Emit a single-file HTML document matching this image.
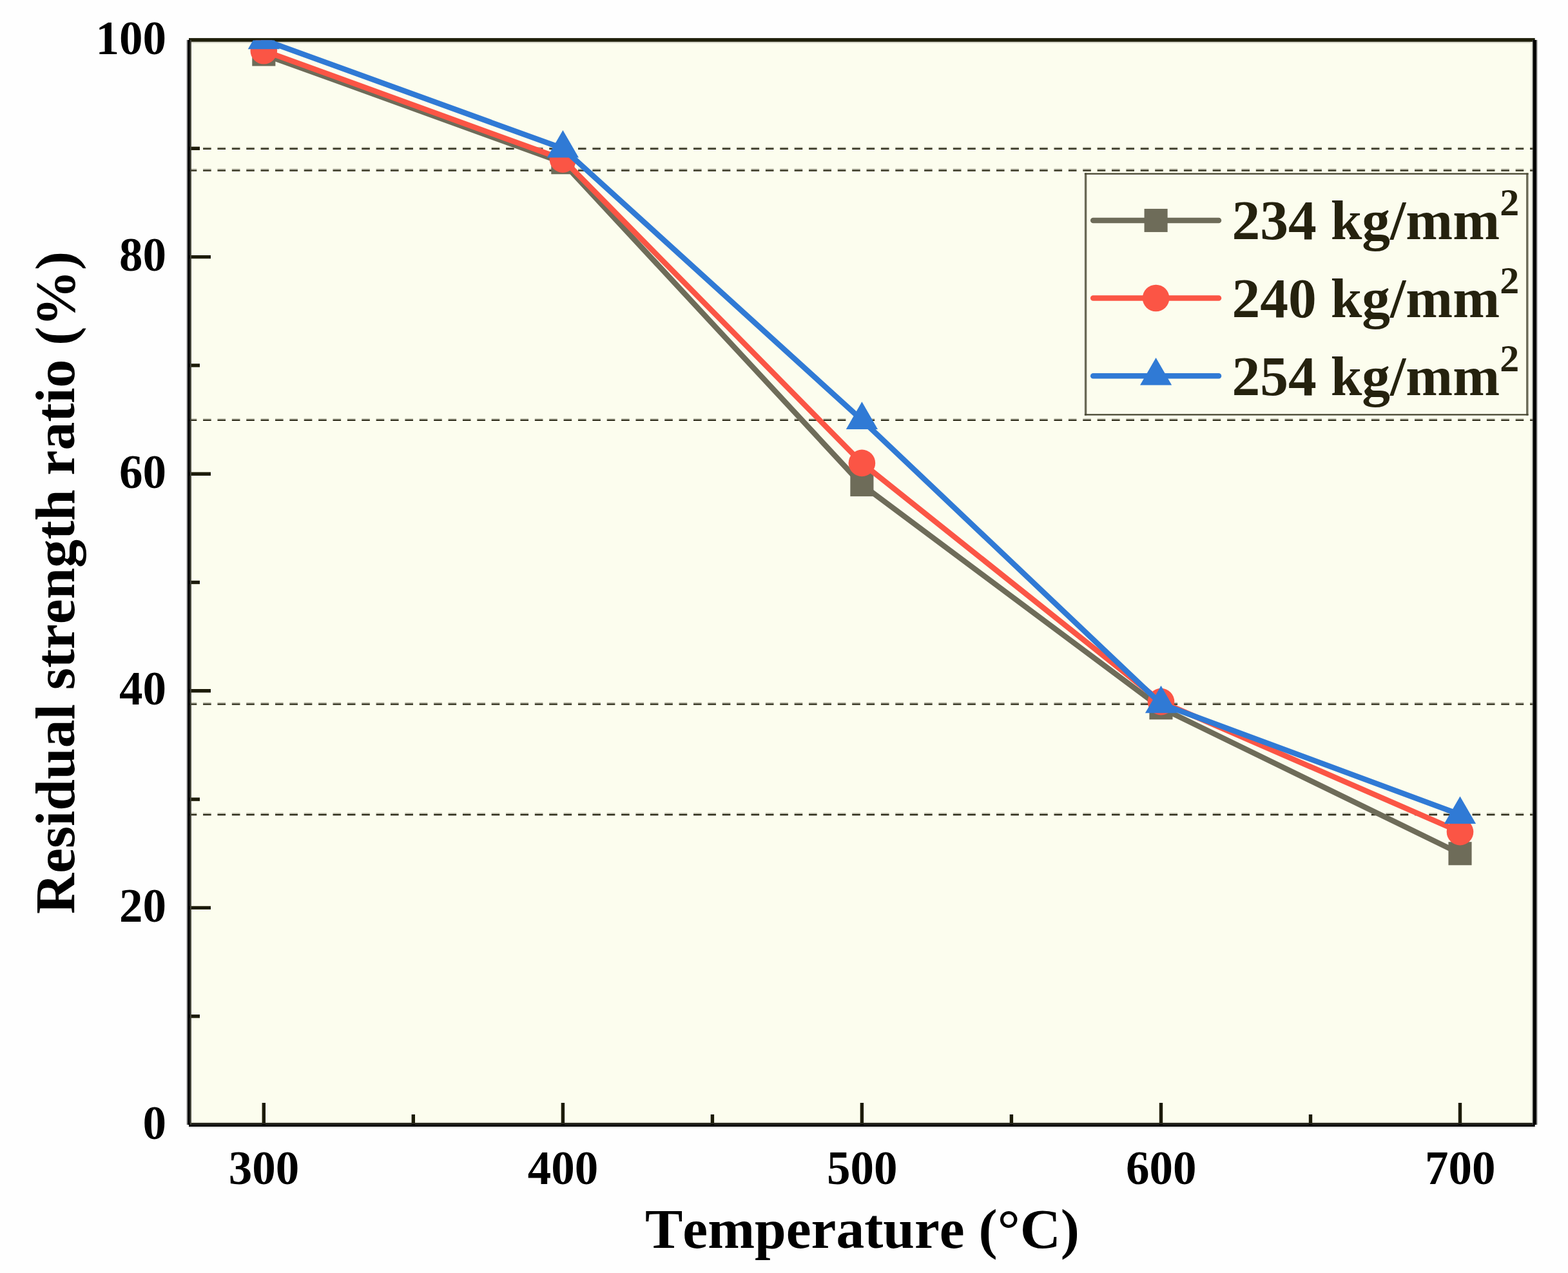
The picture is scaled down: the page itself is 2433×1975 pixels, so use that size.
<!DOCTYPE html>
<html lang="en">
<head>
<meta charset="utf-8">
<title>Residual strength ratio vs temperature</title>
<style>
html,body{margin:0;padding:0;background:#fefefe;}
body{width:2433px;height:1975px;}
svg{display:block;}
text{font-family:"Liberation Serif","Times New Roman",serif;font-weight:bold;font-kerning:none;}
.tk{font-size:73px;fill:#000;}
.ti{font-size:87.5px;fill:#000;}
.lg{font-size:87.5px;fill:#25220e;}
</style>
</head>
<body>
<svg width="2433" height="1975" viewBox="0 0 2433 1975">
<rect x="0" y="0" width="2433" height="1975" fill="#fefefe"/>
<rect x="293.0" y="62.0" width="2088.7" height="1683.0" fill="#fcfdee"/>

<rect x="293.0" y="64.8" width="2088.7" height="2.0" fill="#d6d6ca"/>
<rect x="293.0" y="1740.2" width="2088.7" height="1.8" fill="#ecedde"/>
<rect x="2375.0" y="65.0" width="2.7" height="1677.0" fill="#f1f2e6"/>
<g fill="none" stroke-dasharray="12.6 9.78" stroke-dashoffset="0.3">
<line x1="293.00" y1="229.02" x2="2381.7" y2="229.02" stroke="#b4b4a3" stroke-width="1.7"/>
<line x1="293.00" y1="230.92" x2="2381.7" y2="230.92" stroke="#2c2b18" stroke-width="2.1"/>
<line x1="293.00" y1="262.68" x2="2381.7" y2="262.68" stroke="#b4b4a3" stroke-width="1.7"/>
<line x1="293.00" y1="264.58" x2="2381.7" y2="264.58" stroke="#2c2b18" stroke-width="2.1"/>
<line x1="293.00" y1="650.10" x2="2381.7" y2="650.10" stroke="#b4b4a3" stroke-width="1.7"/>
<line x1="293.00" y1="652.00" x2="2381.7" y2="652.00" stroke="#2c2b18" stroke-width="2.1"/>
<line x1="293.00" y1="1090.71" x2="2381.7" y2="1090.71" stroke="#b4b4a3" stroke-width="1.7"/>
<line x1="293.00" y1="1092.61" x2="2381.7" y2="1092.61" stroke="#2c2b18" stroke-width="2.1"/>
<line x1="293.00" y1="1262.21" x2="2381.7" y2="1262.21" stroke="#b4b4a3" stroke-width="1.7"/>
<line x1="293.00" y1="1264.11" x2="2381.7" y2="1264.11" stroke="#2c2b18" stroke-width="2.1"/>
</g>
<g stroke="#1c1b08" stroke-width="5.4" fill="none">
<line x1="293.0" y1="1576.7" x2="310.0" y2="1576.7"/>
<line x1="293.0" y1="1408.4" x2="327.0" y2="1408.4"/>
<line x1="293.0" y1="1240.1" x2="310.0" y2="1240.1"/>
<line x1="293.0" y1="1071.8" x2="327.0" y2="1071.8"/>
<line x1="293.0" y1="903.5" x2="310.0" y2="903.5"/>
<line x1="293.0" y1="735.2" x2="327.0" y2="735.2"/>
<line x1="293.0" y1="566.9" x2="310.0" y2="566.9"/>
<line x1="293.0" y1="398.6" x2="327.0" y2="398.6"/>
<line x1="293.0" y1="230.3" x2="310.0" y2="230.3"/>
<line x1="409.3" y1="1745.0" x2="409.3" y2="1711.0"/>
<line x1="641.3" y1="1745.0" x2="641.3" y2="1729.0"/>
<line x1="873.4" y1="1745.0" x2="873.4" y2="1711.0"/>
<line x1="1105.4" y1="1745.0" x2="1105.4" y2="1729.0"/>
<line x1="1337.4" y1="1745.0" x2="1337.4" y2="1711.0"/>
<line x1="1569.4" y1="1745.0" x2="1569.4" y2="1729.0"/>
<line x1="1801.5" y1="1745.0" x2="1801.5" y2="1711.0"/>
<line x1="2033.5" y1="1745.0" x2="2033.5" y2="1729.0"/>
<line x1="2265.5" y1="1745.0" x2="2265.5" y2="1711.0"/>
</g>
<rect x="293.0" y="59.1" width="2088.7" height="5.7" fill="#1f1f0a"/>
<rect x="293.0" y="1748.0" width="2088.7" height="2.1" fill="#e4e4e4"/>
<rect x="293.0" y="1742.0" width="2088.7" height="2.3" fill="#24231a"/>
<rect x="293.0" y="1744.2" width="2088.7" height="3.7" fill="#000000"/>
<rect x="289.0" y="62.0" width="1.9" height="1683.0" fill="#b8b8b8"/>
<rect x="290.9" y="62.0" width="4.0" height="1683.0" fill="#000000"/>
<rect x="294.9" y="62.0" width="2.0" height="1683.0" fill="#45453a"/>
<rect x="2377.7" y="62.0" width="1.0" height="1683.0" fill="#5a5a5a"/>
<rect x="2378.7" y="62.0" width="5.3" height="1683.0" fill="#000000"/>
<rect x="2384.0" y="62.0" width="1.7" height="1683.0" fill="#9c9c9c"/>
<svg x="293.0" y="62.6" width="2088.7" height="1682.4" viewBox="293.0 62.6 2088.7 1682.4" overflow="hidden">
<polyline points="409.3,84.4 873.4,252.2 1337.4,752.0 1801.5,1098.2 2265.5,1324.2" fill="none" stroke="#6e6c59" stroke-width="8.5" stroke-linejoin="round" stroke-linecap="round"/>
<rect x="391.25" y="66.33" width="36.1" height="36.1" fill="#6e6c59"/>
<rect x="855.30" y="234.13" width="36.1" height="36.1" fill="#6e6c59"/>
<rect x="1319.35" y="733.98" width="36.1" height="36.1" fill="#6e6c59"/>
<rect x="1783.40" y="1080.17" width="36.1" height="36.1" fill="#6e6c59"/>
<rect x="2247.45" y="1306.20" width="36.1" height="36.1" fill="#6e6c59"/>
<polyline points="409.3,78.8 873.4,247.1 1337.4,718.4 1801.5,1088.6 2265.5,1290.6" fill="none" stroke="#fb5545" stroke-width="8.5" stroke-linejoin="round" stroke-linecap="round"/>
<circle cx="409.3" cy="78.8" r="20.8" fill="#fb5545"/>
<circle cx="873.4" cy="247.1" r="20.8" fill="#fb5545"/>
<circle cx="1337.4" cy="718.4" r="20.8" fill="#fb5545"/>
<circle cx="1801.5" cy="1088.6" r="20.8" fill="#fb5545"/>
<circle cx="2265.5" cy="1290.6" r="20.8" fill="#fb5545"/>
<polyline points="409.3,62.0 873.4,230.3 1337.4,651.6 1801.5,1092.0 2265.5,1263.7" fill="none" stroke="#307ad5" stroke-width="8.5" stroke-linejoin="round" stroke-linecap="round"/>
<polygon points="409.3,33.7 433.9,76.3 384.7,76.3" fill="#307ad5"/>
<polygon points="873.4,202.0 898.0,244.6 848.8,244.6" fill="#307ad5"/>
<polygon points="1337.4,623.3 1362.0,665.9 1312.8,665.9" fill="#307ad5"/>
<polygon points="1801.5,1063.7 1826.0,1106.3 1776.9,1106.3" fill="#307ad5"/>
<polygon points="2265.5,1235.4 2290.1,1278.0 2240.9,1278.0" fill="#307ad5"/>
</svg>
<rect x="1684.6" y="269.6" width="685.2" height="373.8" fill="#fcfdee"/>
<path d="M1684.6 268.5V644.5M2369.8 268.5V644.5" stroke="#6b6a57" stroke-width="3.4" fill="none"/>
<path d="M1682.8999999999999 269.6H2371.5M1682.8999999999999 643.4H2371.5" stroke="#45442f" stroke-width="2.3" fill="none"/>
<line x1="1696.2" y1="342.0" x2="1891.0" y2="342.0" stroke="#6e6c59" stroke-width="8.5" stroke-linecap="round"/>
<rect x="1775.55" y="323.95" width="36.1" height="36.1" fill="#6e6c59"/>
<text class="lg" x="1911.5" y="370.8">234 kg/mm<tspan font-size="60" dy="-36.6">2</tspan></text>
<line x1="1696.2" y1="462.5" x2="1891.0" y2="462.5" stroke="#fb5545" stroke-width="8.5" stroke-linecap="round"/>
<circle cx="1793.6" cy="462.5" r="20.8" fill="#fb5545"/>
<text class="lg" x="1911.5" y="491.8">240 kg/mm<tspan font-size="60" dy="-36.6">2</tspan></text>
<line x1="1696.2" y1="583.2" x2="1891.0" y2="583.2" stroke="#307ad5" stroke-width="8.5" stroke-linecap="round"/>
<polygon points="1793.6,554.9 1818.2,597.5 1769.0,597.5" fill="#307ad5"/>
<text class="lg" x="1911.5" y="612.7">254 kg/mm<tspan font-size="60" dy="-36.6">2</tspan></text>
<text class="tk" text-anchor="end" x="258" y="1766.5">0</text>
<text class="tk" text-anchor="end" x="258" y="1429.9">20</text>
<text class="tk" text-anchor="end" x="258" y="1093.3">40</text>
<text class="tk" text-anchor="end" x="258" y="756.7">60</text>
<text class="tk" text-anchor="end" x="258" y="420.1">80</text>
<text class="tk" text-anchor="end" x="258" y="83.5">100</text>
<text class="tk" text-anchor="middle" x="409.6" y="1836.5">300</text>
<text class="tk" text-anchor="middle" x="873.6" y="1836.5">400</text>
<text class="tk" text-anchor="middle" x="1337.7" y="1836.5">500</text>
<text class="tk" text-anchor="middle" x="1801.8" y="1836.5">600</text>
<text class="tk" text-anchor="middle" x="2265.8" y="1836.5">700</text>
<text class="ti" text-anchor="middle" x="1338" y="1935.5">Temperature (°C)</text>
<text class="ti" text-anchor="middle" transform="translate(115.2 904) rotate(-90)">Residual strength ratio (%)</text>
</svg>
</body>
</html>
